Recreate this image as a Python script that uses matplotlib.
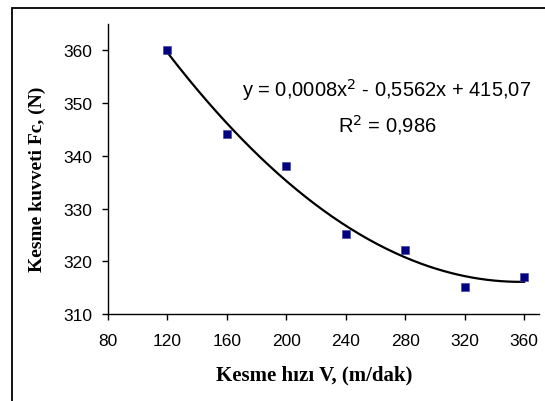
import numpy as np
import matplotlib.pyplot as plt
from matplotlib.patches import Rectangle

# Kesme hizi (m/dak) vs kesme kuvveti (N)
speed = [120, 160, 200, 240, 280, 320, 360]
force = [360.0, 344.2, 338.1, 325.2, 322.1, 315.2, 317.0]
x_ticks = [80, 120, 160, 200, 240, 280, 320, 360]
y_ticks = [310, 320, 330, 340, 350, 360]

fig = plt.figure(figsize=(5.45, 4.02), dpi=100)
ax = fig.add_axes([0.198, 0.2164, 0.791, 0.7214])

# outer chart border (Excel style), right/bottom run off the image
fig.patches.append(Rectangle((11.5 / 545, -0.05), 1.2, 1 - 9 / 402 + 0.05,
                             transform=fig.transFigure, fill=False,
                             edgecolor='black', linewidth=1.3))

# 2nd order polynomial trendline fitted to the points
coef = np.polyfit(speed, force, 2)
xs = np.linspace(min(speed), max(speed), 200)
ax.plot(xs, np.polyval(coef, xs), color='black', linewidth=1.6, zorder=2)

ax.scatter(speed, force, marker='s', s=30, color='#000080',
           edgecolors='#3a3aa0', linewidths=0.4, zorder=3)

ax.text(267.8, 352.7, 'y = 0,0008x$^2$ - 0,5562x + 415,07', ha='center', va='center',
        fontsize=14.5, family='Liberation Sans')
ax.text(267.8, 346.1, 'R$^2$ = 0,986', ha='center', va='center',
        fontsize=14.5, family='Liberation Sans')

ax.set_xlim(80, 370)
ax.set_ylim(310, 365)
ax.set_xticks(x_ticks)
ax.set_yticks(y_ticks)
for lbl in ax.get_xticklabels() + ax.get_yticklabels():
    lbl.set_family('Liberation Sans')
    lbl.set_fontsize(12.5)
ax.tick_params(direction='out', length=4.5, width=1)
ax.tick_params(axis='y', pad=6.5)
ax.tick_params(axis='x', pad=9)

for side in ['top', 'right']:
    ax.spines[side].set_visible(False)
for side in ['left', 'bottom']:
    ax.spines[side].set_linewidth(1)

ax.set_xlabel('Kesme hızı V, (m/dak)', family='Liberation Serif', fontweight='bold',
              fontsize=15)
ax.set_ylabel('Kesme kuvveti Fc, (N)', family='Liberation Serif', fontweight='bold',
              fontsize=14)
ax.xaxis.set_label_coords(0.478, -0.174)
ax.yaxis.set_label_coords(-0.143, 0.469)

fig.savefig('out.png')
